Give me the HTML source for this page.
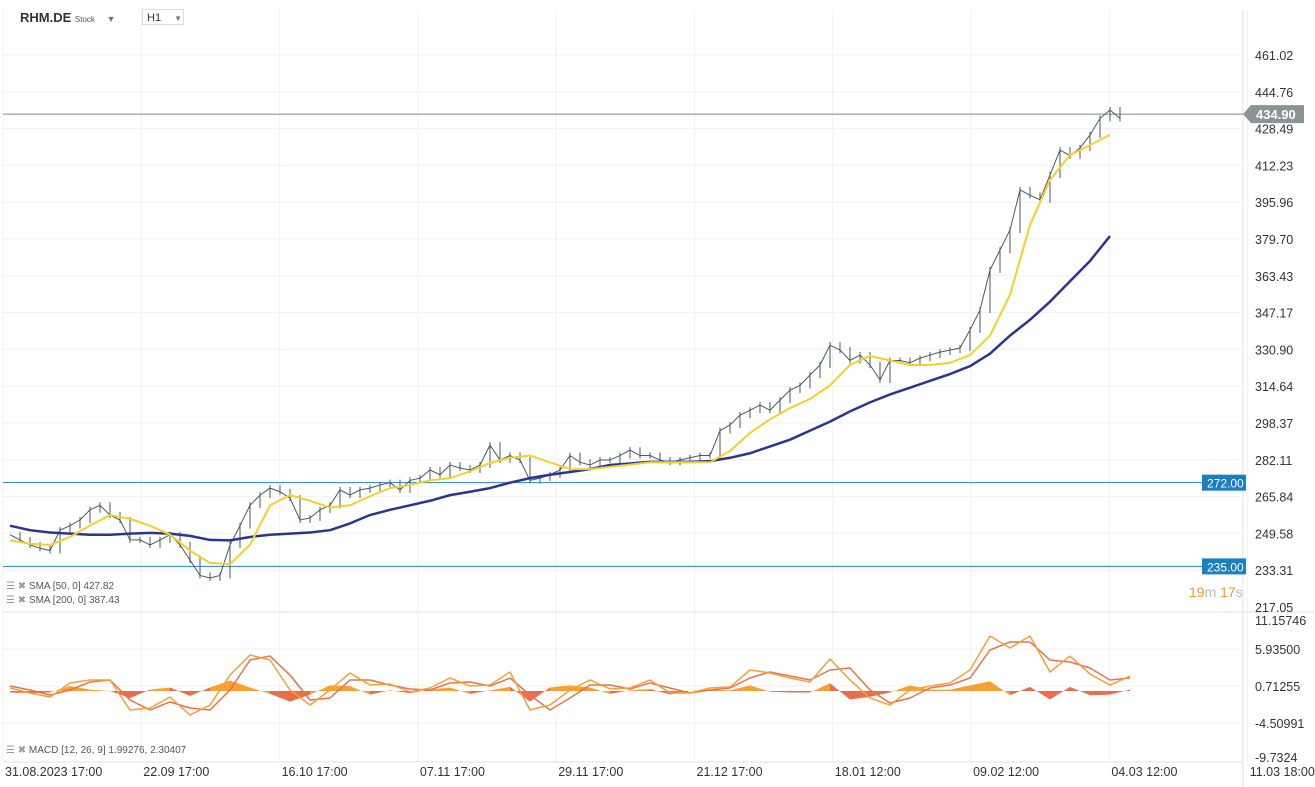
<!DOCTYPE html>
<html><head><meta charset="utf-8">
<style>
body{margin:0;background:#fff;font-family:"Liberation Sans",sans-serif;}
svg{display:block}
text{font-family:"Liberation Sans",sans-serif}
</style></head>
<body>
<svg id="c" width="1315" height="787">
<g id="grid"></g>
<g id="series"></g>
<g id="labels"></g>
</svg>
<script>
const closes=[249,246.7,244.5,243,242,251,253,255.5,260,262,257.7,255.5,246.7,246.7,244.5,246.7,249,244.5,237.8,231,229.9,231,244.5,253,262,266.5,269.6,268,265.2,255.5,256.4,260,262,268.8,266.5,268.8,269.6,271,272,268.8,273,274,277.6,275.5,279.8,278.5,277.6,279.8,288.6,282,284,282,273,274,275.5,277.6,284,281,279.8,282,282,284,286.4,284,284,282,281,282,283,284,284,295,297.5,301.9,304,306.3,304,308.5,312.9,315,319.6,324,332.8,330.6,326,328.4,324,317.4,326,326,325,327,328.4,329.7,330.6,331.5,339.5,348.3,366,374.8,383.7,401.4,399,397,408,419,416.5,419.9,425.7,433,436.7,433];
const sma50=[246.5,245,244.5,248,253,257.7,256,253,249,242,236.5,236,244.5,262,266.5,264,261,262,266,269.6,271,273,274,277,280.7,283,284,281,278,278,279,280,281,281,281,281,286,294,300,305,309,315,324,328,326,324,324,325,328.4,337,355,385.9,405.8,416.8,421.2,425.7];
const sma200=[253,251,250,249.5,249,249,249.5,249.8,249.5,248.5,246.7,246.5,248,249,249.5,250,251,254,257.7,260,262,264,266.5,268,269.6,272,274,275.5,276.7,278,279.8,280.5,281.2,281.2,281.2,281.5,283,285,288,291,295,299,303.5,307.5,311,314,317,320,323.5,329,337,344,352,361,370,381];
const macdLine=[0.43,-0.27,-0.84,1.14,1.56,1.56,-2.67,-2.39,-0.84,-3.38,-1.97,2.26,5.08,4.38,0.15,-1.97,0.15,2.55,0.85,0.99,-0.13,0.43,1.84,0.71,0.85,2.69,-2.67,-1.97,0.15,1.56,0.29,0.43,1.56,-0.27,-0.27,0.43,0.57,2.97,2.55,1.84,1.27,4.52,1.56,-0.98,-1.97,0.15,0.71,1.14,2.97,7.76,6.07,7.76,2.69,4.94,2.40,0.85,2.12];
const signalLine=[0.71,0.15,-0.56,0.15,1.27,1.56,-1.26,-2.67,-1.54,-2.39,-2.67,0.15,4.38,4.94,2.26,-1.26,-0.98,1.56,1.56,0.85,0.29,0.15,1.14,1.27,0.71,1.84,-0.56,-2.67,-0.98,0.85,0.85,0.29,1.14,0.43,-0.27,0.15,0.43,1.84,2.69,2.12,1.56,2.97,3.25,0.15,-1.69,-0.98,0.43,0.85,1.84,5.79,6.92,6.92,4.38,4.10,3.25,1.56,1.84];
const priceTicks=["461.02","444.76","428.49","412.23","395.96","379.70","363.43","347.17","330.90","314.64","298.37","282.11","265.84","249.58","233.31","217.05"];
const macdTicks=["11.15746","5.93500","0.71255","-4.50991","-9.7324"];
const dateTicks=["31.08.2023  17:00","22.09  17:00","16.10  17:00","07.11  17:00","29.11  17:00","21.12  17:00","18.01  12:00","09.02  12:00","04.03  12:00","11.03  18:00"];
const hLevels=[434.90,272.00,235.00];

const NS="http://www.w3.org/2000/svg";
function mk(tag,attrs,parent){const e=document.createElementNS(NS,tag);for(const k in attrs)e.setAttribute(k,attrs[k]);parent.appendChild(e);return e;}
const X=i=>10+i*10;
const Y=p=>607-(p-217.05)/(461.02-217.05)*552;
const MY=v=>686-(v-0.71255)*7.09;
const G=document.getElementById('grid'),S=document.getElementById('series'),L=document.getElementById('labels');

priceTicks.forEach(t=>{const y=Y(parseFloat(t));
 if(t!=="217.05"){const ln=mk('line',{x1:3,x2:1243,y1:y,y2:y,stroke:'#f0f0f0'},G);
 }
 const tx=mk('text',{x:1255,y:y+5,'font-size':12.5,fill:'#333'},L);tx.textContent=t;
 });
macdTicks.forEach(t=>{const y=MY(parseFloat(t));
 if(y>615&&y<758){const ln=mk('line',{x1:3,x2:1243,y1:y,y2:y,stroke:'#f0f0f0'},G);
 }
 const ly=Math.min(Math.max(y,620),757);
 const tx=mk('text',{x:1255,y:ly+5,'font-size':12.5,fill:'#333'},L);tx.textContent=t;
 });
dateTicks.forEach((t,i)=>{const x=3+i*138.3;
 const ln=mk('line',{x1:x,x2:x,y1:10,y2:762,stroke:'#f0f0f0'},G);
 
 const tx=mk('text',{x:x+2,y:776,'font-size':12.5,fill:'#333','xml:space':'preserve'},L);tx.textContent=t;
 });
[[3,612,1315,612],[3,762,1243,762],[1243,10,1243,787]].forEach(a=>{const l=mk('line',{x1:a[0],y1:a[1],x2:a[2],y2:a[3],stroke:'#e2e2e2'},G);
 });

hLevels.forEach((p,i)=>{const y=Y(p);
 const l=mk('line',{x1:3,x2:1243,y1:y,y2:y,stroke:i===0?'#7d8a8f':'#1f87c8','stroke-width':1},S);
 
 if(i===0){const b=mk('path',{d:`M1243 ${y} L1251 ${y-9} H1304 V${y+9} H1251 Z`,fill:'#8a9396'},L);
  
  const t=mk('text',{x:1256,y:y+5,'font-size':13,'font-weight':'bold',fill:'#fff'},L);t.textContent=p.toFixed(2);
  }
 else{const b=mk('rect',{x:1202,y:y-8,width:44,height:16,fill:'#1a7fc1'},L);
  
  const t=mk('text',{x:1207,y:y+5,'font-size':12,fill:'#fff'},L);t.textContent=p.toFixed(2);
  }
});

let d='';closes.forEach((c,i)=>{d+=(i?'L':'M')+X(i)+' '+Y(c)+' ';});
const pl=mk('path',{d:d,fill:'none',stroke:'#4a5864','stroke-width':1},S);

closes.forEach((c,i)=>{if(i===0)return;const y1=Y(c),y0=Y(closes[i-1]);
 const w=mk('line',{x1:X(i),x2:X(i),y1:Math.min(y0,y1)-3,y2:Math.max(y0,y1)+3,stroke:'#4a5864','stroke-width':1},S);
 });
function line(arr,step,col,name,w){let dd='';arr.forEach((v,i)=>{dd+=(i?'L':'M')+X(i*step)+' '+Y(v)+' ';});
 const p=mk('path',{d:dd,fill:'none',stroke:col,'stroke-width':w,'stroke-linejoin':'round'},S);
 }
line(sma200,2,'#2b3590','sma-200-line',2.5);
line(sma50,2,'#f5cf2a','sma-50-line',2);

const z=MY(0);
for(let i=0;i<macdLine.length-1;i++){
 const h0=macdLine[i]-signalLine[i],h1=macdLine[i+1]-signalLine[i+1];
 const x0=X(i*2),x1=X((i+1)*2);
 const poly=mk('path',{d:`M${x0} ${z} L${x0} ${z-(h0)*5} L${x1} ${z-(h1)*5} L${x1} ${z} Z`,fill:(h0+h1)>=0?'#f7a035':'#ea6e4d'},S);
 }
function mline(arr,col,name){let dd='';arr.forEach((v,i)=>{dd+=(i?'L':'M')+X(i*2)+' '+MY(v)+' ';});
 const p=mk('path',{d:dd,fill:'none',stroke:col,'stroke-width':1.5,'stroke-linejoin':'round'},S);
 }
mline(signalLine,'#ea7050','macd-signal-line');
mline(macdLine,'#f7a035','macd-line');
</script>
<div style="position:absolute;left:0;top:0;width:1315px;height:787px;pointer-events:none">
<div style="position:absolute;left:20px;top:10px;font-size:13px;font-weight:bold;color:#333">RHM.DE <span style="font-size:8px;font-weight:normal;color:#555">Stock</span> <span style="font-size:9px;color:#777;margin-left:8px">▼</span></div>
<div style="position:absolute;left:142px;top:9px;width:42px;height:16px;border:1px solid #ddd;font-size:11px;color:#333;line-height:16px;padding-left:4px;box-sizing:border-box">H1 <span style="font-size:8px;color:#777;margin-left:10px">▼</span></div>
<div style="position:absolute;left:6px;top:581px;font-size:10px;color:#555"><span style="color:#999">☰ ✖</span> SMA [50, 0] 427.82</div>
<div style="position:absolute;left:6px;top:595px;font-size:10px;color:#555"><span style="color:#999">☰ ✖</span> SMA [200, 0] 387.43</div>
<div style="position:absolute;left:6px;top:745px;font-size:10px;color:#555"><span style="color:#999">☰ ✖</span> MACD [12, 26, 9] 1.99276, 2.30407</div>
<div style="position:absolute;left:1189px;top:584px;font-size:14px;color:#f39a2b">19<span style="color:#bbb">m</span> 17<span style="color:#bbb">s</span></div>
</div>
</body></html>
